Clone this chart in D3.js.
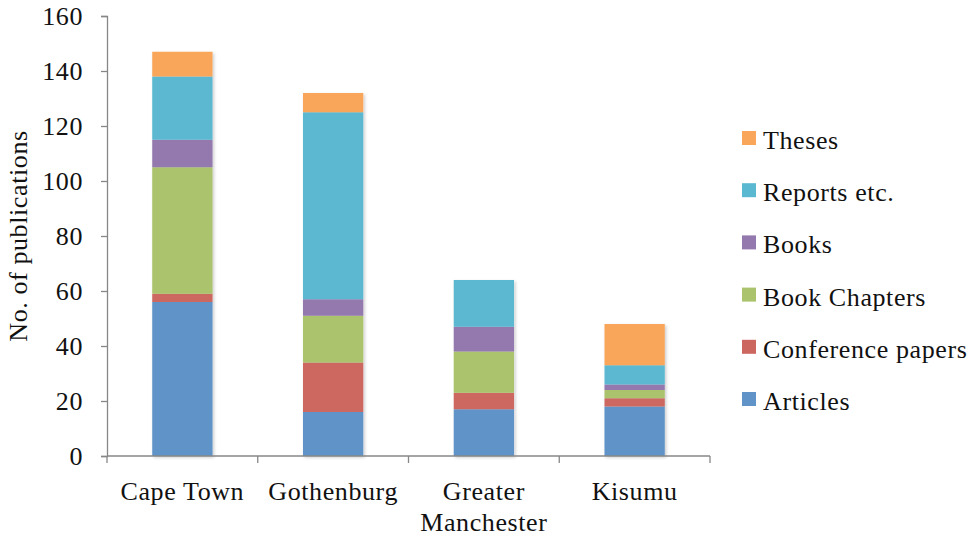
<!DOCTYPE html>
<html>
<head>
<meta charset="utf-8">
<script src="https://cdn.jsdelivr.net/npm/d3@7"></script>
<style>
  html, body { margin: 0; padding: 0; background: #fff; }
  svg { display: block; }
  text { font-family: "Liberation Serif", "DejaVu Serif", serif; fill: #111; letter-spacing: 0.6px; }
</style>
</head>
<body>
<svg id="chart" width="976" height="533"></svg>
<script>
// Publications per city, stacked by publication type
const cities = ["Cape Town", "Gothenburg", "Greater Manchester", "Kisumu"];
const types = ["Articles", "Conference papers", "Book Chapters", "Books", "Reports etc.", "Theses"];
const articles     = [56, 16, 17, 18];
const conference   = [3, 18, 6, 3];
const chapters     = [46, 17, 15, 3];
const books        = [10, 6, 9, 2];
const reports      = [23, 68, 17, 7];
const theses       = [9, 7, 0, 15];
const yTicks = [0, 20, 40, 60, 80, 100, 120, 140, 160];
const typeColors = ["#6094C8", "#CC6760", "#AAC36C", "#9479AF", "#5BB8D1", "#F9A65A"];

const seriesValues = [articles, conference, chapters, books, reports, theses];
const rows = cities.map((c, i) => {
  const r = { city: c };
  types.forEach((t, k) => { r[t] = seriesValues[k][i]; });
  return r;
});

const svg = d3.select("#chart");
const margin = { left: 107, right: 266, top: 16, bottom: 77 };
const W = 976, H = 533;
const FS = 26;

const x = d3.scaleBand().domain(cities).range([margin.left, W - margin.right]).paddingInner(0.6).paddingOuter(0.3);
const y = d3.scaleLinear().domain([0, 160]).range([H - margin.bottom, margin.top]);
const color = d3.scaleOrdinal().domain(types).range(typeColors);

const defs = svg.append("defs");
const f = defs.append("filter").attr("id", "shadow").attr("x", "-20%").attr("y", "-5%").attr("width", "140%").attr("height", "110%");
f.append("feDropShadow").attr("dx", 1.5).attr("dy", 1.5).attr("stdDeviation", 1.5).attr("flood-color", "#000").attr("flood-opacity", 0.2);

const stack = d3.stack().keys(types);
const series = stack(rows);

const barsG = svg.append("g").attr("filter", "url(#shadow)");
series.forEach(s => {
  barsG.append("g").attr("fill", color(s.key))
    .selectAll("rect").data(s.filter(d => d[1] - d[0] > 0)).join("rect")
    .attr("x", d => x(d.data.city))
    .attr("width", x.bandwidth())
    .attr("y", d => y(d[1]))
    .attr("height", d => y(d[0]) - y(d[1]));
});

const axisColor = "#878787";

// Y axis
const yAxis = svg.append("g").attr("transform", `translate(${margin.left},0)`)
  .call(d3.axisLeft(y).tickValues(yTicks).tickSize(6).tickPadding(18));
yAxis.select(".domain").attr("stroke", axisColor).attr("stroke-width", 1.3);
yAxis.selectAll(".tick line").attr("stroke", axisColor).attr("stroke-width", 1.3);
yAxis.selectAll(".tick text").attr("font-size", FS).attr("font-family", "Liberation Serif").attr("fill", "#111").attr("dy", "0.34em");

// X axis: baseline with ticks at category boundaries
const x0 = margin.left, x1 = W - margin.right, yb = y(0);
const step = (x1 - x0) / cities.length;
const xAxis = svg.append("g");
xAxis.append("line").attr("x1", x0).attr("x2", x1).attr("y1", yb).attr("y2", yb)
  .attr("stroke", axisColor).attr("stroke-width", 1.3);
d3.range(cities.length + 1).forEach(i => {
  xAxis.append("line").attr("x1", x0 + i * step).attr("x2", x0 + i * step)
    .attr("y1", yb).attr("y2", yb + 7).attr("stroke", axisColor).attr("stroke-width", 1.3);
});

// Category labels, wrapped onto two lines where needed
const labelLines = { "Greater Manchester": ["Greater", "Manchester"] };
cities.forEach(c => {
  const lines = labelLines[c] || [c];
  const t = svg.append("text").attr("text-anchor", "middle").attr("font-size", FS)
    .attr("x", x(c) + x.bandwidth() / 2).attr("y", 500);
  lines.forEach((ln, i) => {
    t.append("tspan").attr("x", x(c) + x.bandwidth() / 2).attr("dy", i === 0 ? 0 : 31).text(ln);
  });
});

// Y axis title
svg.append("text").attr("text-anchor", "middle").attr("font-size", FS)
  .attr("transform", `translate(27,${(y(0) + y(160)) / 2}) rotate(-90)`)
  .text("No. of publications");

// Legend, top entry is the top of the stack
const legendOrder = types.slice().reverse();
const lg = svg.append("g");
legendOrder.forEach((t, i) => {
  const cy = 138 + i * 52.2;
  lg.append("rect").attr("x", 742).attr("y", cy - 7).attr("width", 14).attr("height", 14).attr("fill", color(t));
  lg.append("text").attr("x", 763).attr("y", cy + 11).attr("font-size", FS).text(t);
});
</script>
</body>
</html>
